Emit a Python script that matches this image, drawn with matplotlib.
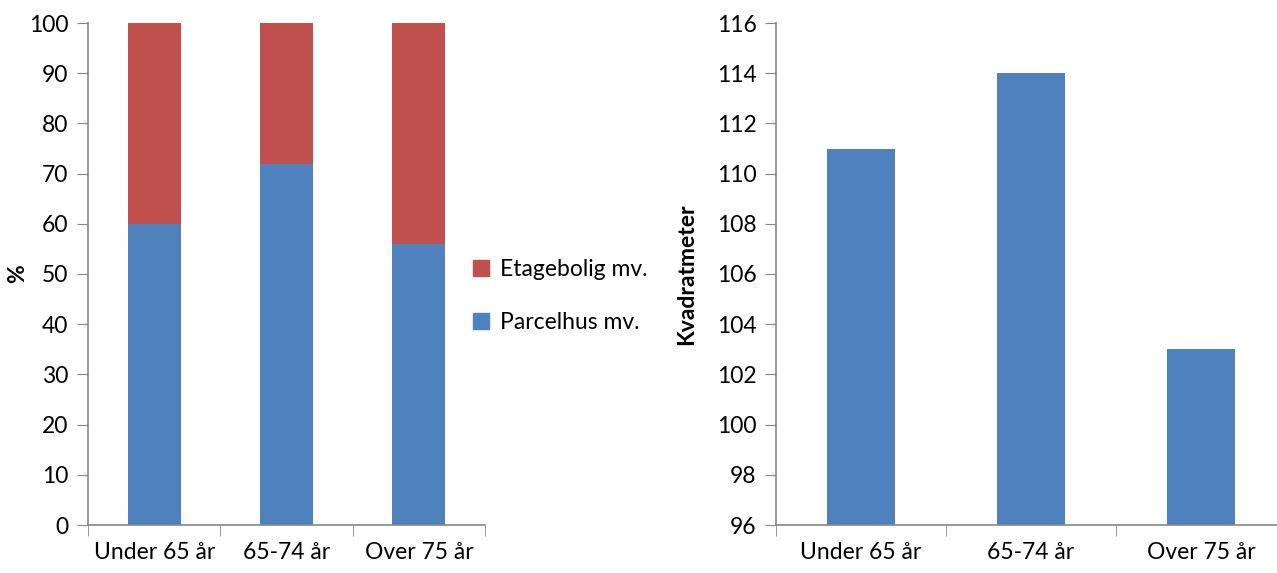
import matplotlib.pyplot as plt
from matplotlib.patches import Patch

categories = ['Under 65 år', '65-74 år', 'Over 75 år']
parcelhus = [60, 72, 56]
etagebolig = [40, 28, 44]
kvadratmeter = [111, 114, 103]

blue = '#4F81BD'
red = '#C0504D'
gray = '#868686'

plt.rcParams['font.family'] = ['Lato', 'DejaVu Sans']
plt.rcParams['font.size'] = 16.5

fig = plt.figure(figsize=(12.77, 5.73), dpi=100)
ax1 = fig.add_axes([88/1277, 48/573, 397/1277, 502/573])
ax2 = fig.add_axes([776/1277, 48/573, 510/1277, 502/573])

x = range(len(categories))
ax1.bar(x, parcelhus, width=0.4, color=blue)
ax1.bar(x, etagebolig, width=0.4, bottom=parcelhus, color=red)
ax1.set_ylim(0, 100)
ax1.set_yticks(range(0, 101, 10))
ax1.set_ylabel('%', fontweight='bold')
ax1.yaxis.set_label_coords(-0.151, 0.5)

ax2.bar(x, kvadratmeter, width=0.4, color=blue)
ax2.set_ylim(96, 116)
ax2.set_yticks(range(96, 117, 2))
ax2.set_ylabel('Kvadratmeter', fontweight='bold')
ax2.yaxis.set_label_coords(-0.155, 0.5)

for ax in (ax1, ax2):
    ax.set_xlim(-0.5, 2.5)
    ax.set_xticks(list(x))
    ax.set_xticklabels(categories)
    ax.set_xticks([-0.5, 0.5, 1.5, 2.5], minor=True)
    ax.tick_params(axis='x', which='major', length=0, pad=12)
    ax.tick_params(axis='x', which='minor', length=8, color=gray, direction='out')
    ax.tick_params(axis='y', length=8, color=gray, direction='out', pad=6)
    for s in ('top', 'right'):
        ax.spines[s].set_visible(False)
    for s in ('left', 'bottom'):
        ax.spines[s].set_color(gray)
        ax.spines[s].set_linewidth(1.2)

handles = [Patch(color=red, label='Etagebolig mv.'), Patch(color=blue, label='Parcelhus mv.')]
fig.legend(handles=handles, loc='center left', bbox_to_anchor=(452/1277, 1 - 296/573),
           frameon=False, handlelength=0.7, handleheight=0.7, handletextpad=0.5,
           labelspacing=1.4, fontsize=16.5)

fig.savefig('out.png', dpi=100)
